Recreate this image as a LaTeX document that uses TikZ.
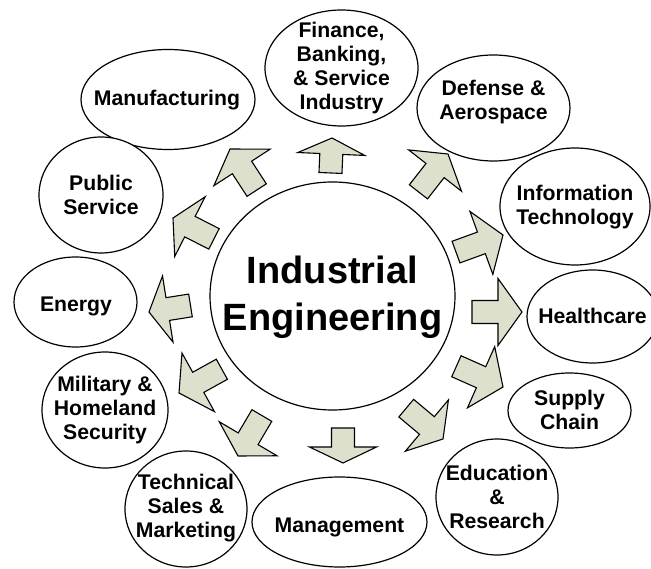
\documentclass[tikz,border=0pt]{standalone}
\usepackage{fontspec}
\setmainfont{Liberation Sans}
\newfontfamily\capserif{Liberation Serif}
\usetikzlibrary{shapes.geometric}
\definecolor{arrowfill}{RGB}{221,224,204}
\tikzset{
  ellbox/.style={draw=black, line width=1.2pt, ellipse, inner sep=0pt, fill=white},
  lab/.style={font=\fontsize{21.2}{24}\selectfont\bfseries, align=center, inner sep=0pt},
  biglab/.style={font=\fontsize{38}{47}\selectfont\bfseries, align=center, inner sep=0pt},
  arrowshape/.style={draw=black, line width=1.1pt, fill=arrowfill, line join=miter},
}
\newcommand{\blockarrow}[5]{%
  \draw[arrowshape, shift={(#1,#2)}, rotate=#3] (0,0) -- (-#4,33.5) -- (-#4,11.5) -- ({-#4-#5},11.5) -- ({-#4-#5},-11.5) -- (-#4,-11.5) -- (-#4,-33.5) -- cycle;}
\begin{document}
\begin{tikzpicture}[x=1pt,y=-1pt]
\useasboundingbox (0,0) rectangle (651,569);
\begin{scope}
\clip (0,0) rectangle (651,569);
% cut-off text line at the top
\node[anchor=base west, inner sep=0pt, font=\capserif\fontsize{34}{40}\selectfont] (captxt) at (-41,-8.5) {Schematic. The figure below illustrates the concept};
% ellipses
\node[ellbox, minimum width=153pt, minimum height=116pt] (fin) at (341.5,68) {};
\node[ellbox, minimum width=153pt, minimum height=106pt] (def) at (493.5,108) {};
\node[ellbox, minimum width=174pt, minimum height=100pt] (man) at (168,99.5) {};
\node[ellbox, minimum width=124pt, minimum height=116pt] (pub) at (101,195) {};
\node[ellbox, minimum width=150pt, minimum height=117pt] (it) at (575,206.5) {};
\node[ellbox, minimum width=123pt, minimum height=90pt] (ene) at (75.5,302) {};
\node[ellbox, minimum width=131pt, minimum height=93pt] (hea) at (592.5,316.5) {};
\node[ellbox, minimum width=126pt, minimum height=116pt] (mil) at (105,410) {};
\node[ellbox, minimum width=123pt, minimum height=75pt] (sup) at (569.5,410.5) {};
\node[ellbox, minimum width=122pt, minimum height=116pt] (tec) at (186,509) {};
\node[ellbox, minimum width=175pt, minimum height=90pt] (mgt) at (339.5,522) {};
\node[ellbox, minimum width=122pt, minimum height=116pt] (edu) at (497,497) {};
\node[ellbox, minimum width=245pt, minimum height=228pt] (ie) at (332.5,296) {};
% labels
\node[lab] (fint) at (341.5,68) {Finance,\\Banking,\\\& Service\\Industry};
\node[lab] (deft) at (493.5,102) {Defense \&\\Aerospace};
\node[lab] (mant) at (167,100) {Manufacturing};
\node[lab] (pubt) at (101,195) {Public\\Service};
\node[lab] (itt) at (575,207) {Information\\Technology};
\node[lab] (enet) at (76,306) {Energy};
\node[lab] (heat) at (592.5,316) {Healthcare};
\node[lab] (milt) at (105,410) {Military \&\\Homeland\\Security};
\node[lab] (supt) at (569.5,410) {Supply\\Chain};
\node[lab] (tect) at (186,508) {Technical\\Sales \&\\Marketing};
\node[lab] (mgtt) at (339.5,527) {Management};
\node[lab] (edut) at (497,497) {Education\\\&\\Research};
\node[biglab] (iet) at (332.5,297) {Industrial\\Engineering};
% block arrows: tip x, tip y, angle, head length, shaft length
\blockarrow{332}{138}{87.5}{16}{19}
\blockarrow{448}{154}{52}{21}{27}
\blockarrow{503}{235}{20}{23}{27}
\blockarrow{522}{312}{0}{24}{26}
\blockarrow{503}{387}{-24}{24}{27}
\blockarrow{443}{439}{-40}{21}{27}
\blockarrow{343}{463}{-90}{16}{19}
\blockarrow{238}{456}{-120.5}{20}{27}
\blockarrow{179}{393}{-151}{22}{27}
\blockarrow{149}{312}{-171}{19}{23}
\blockarrow{173}{218}{153}{19}{27}
\blockarrow{230}{149}{123}{22}{27}
\end{scope}
\end{tikzpicture}
\end{document}
